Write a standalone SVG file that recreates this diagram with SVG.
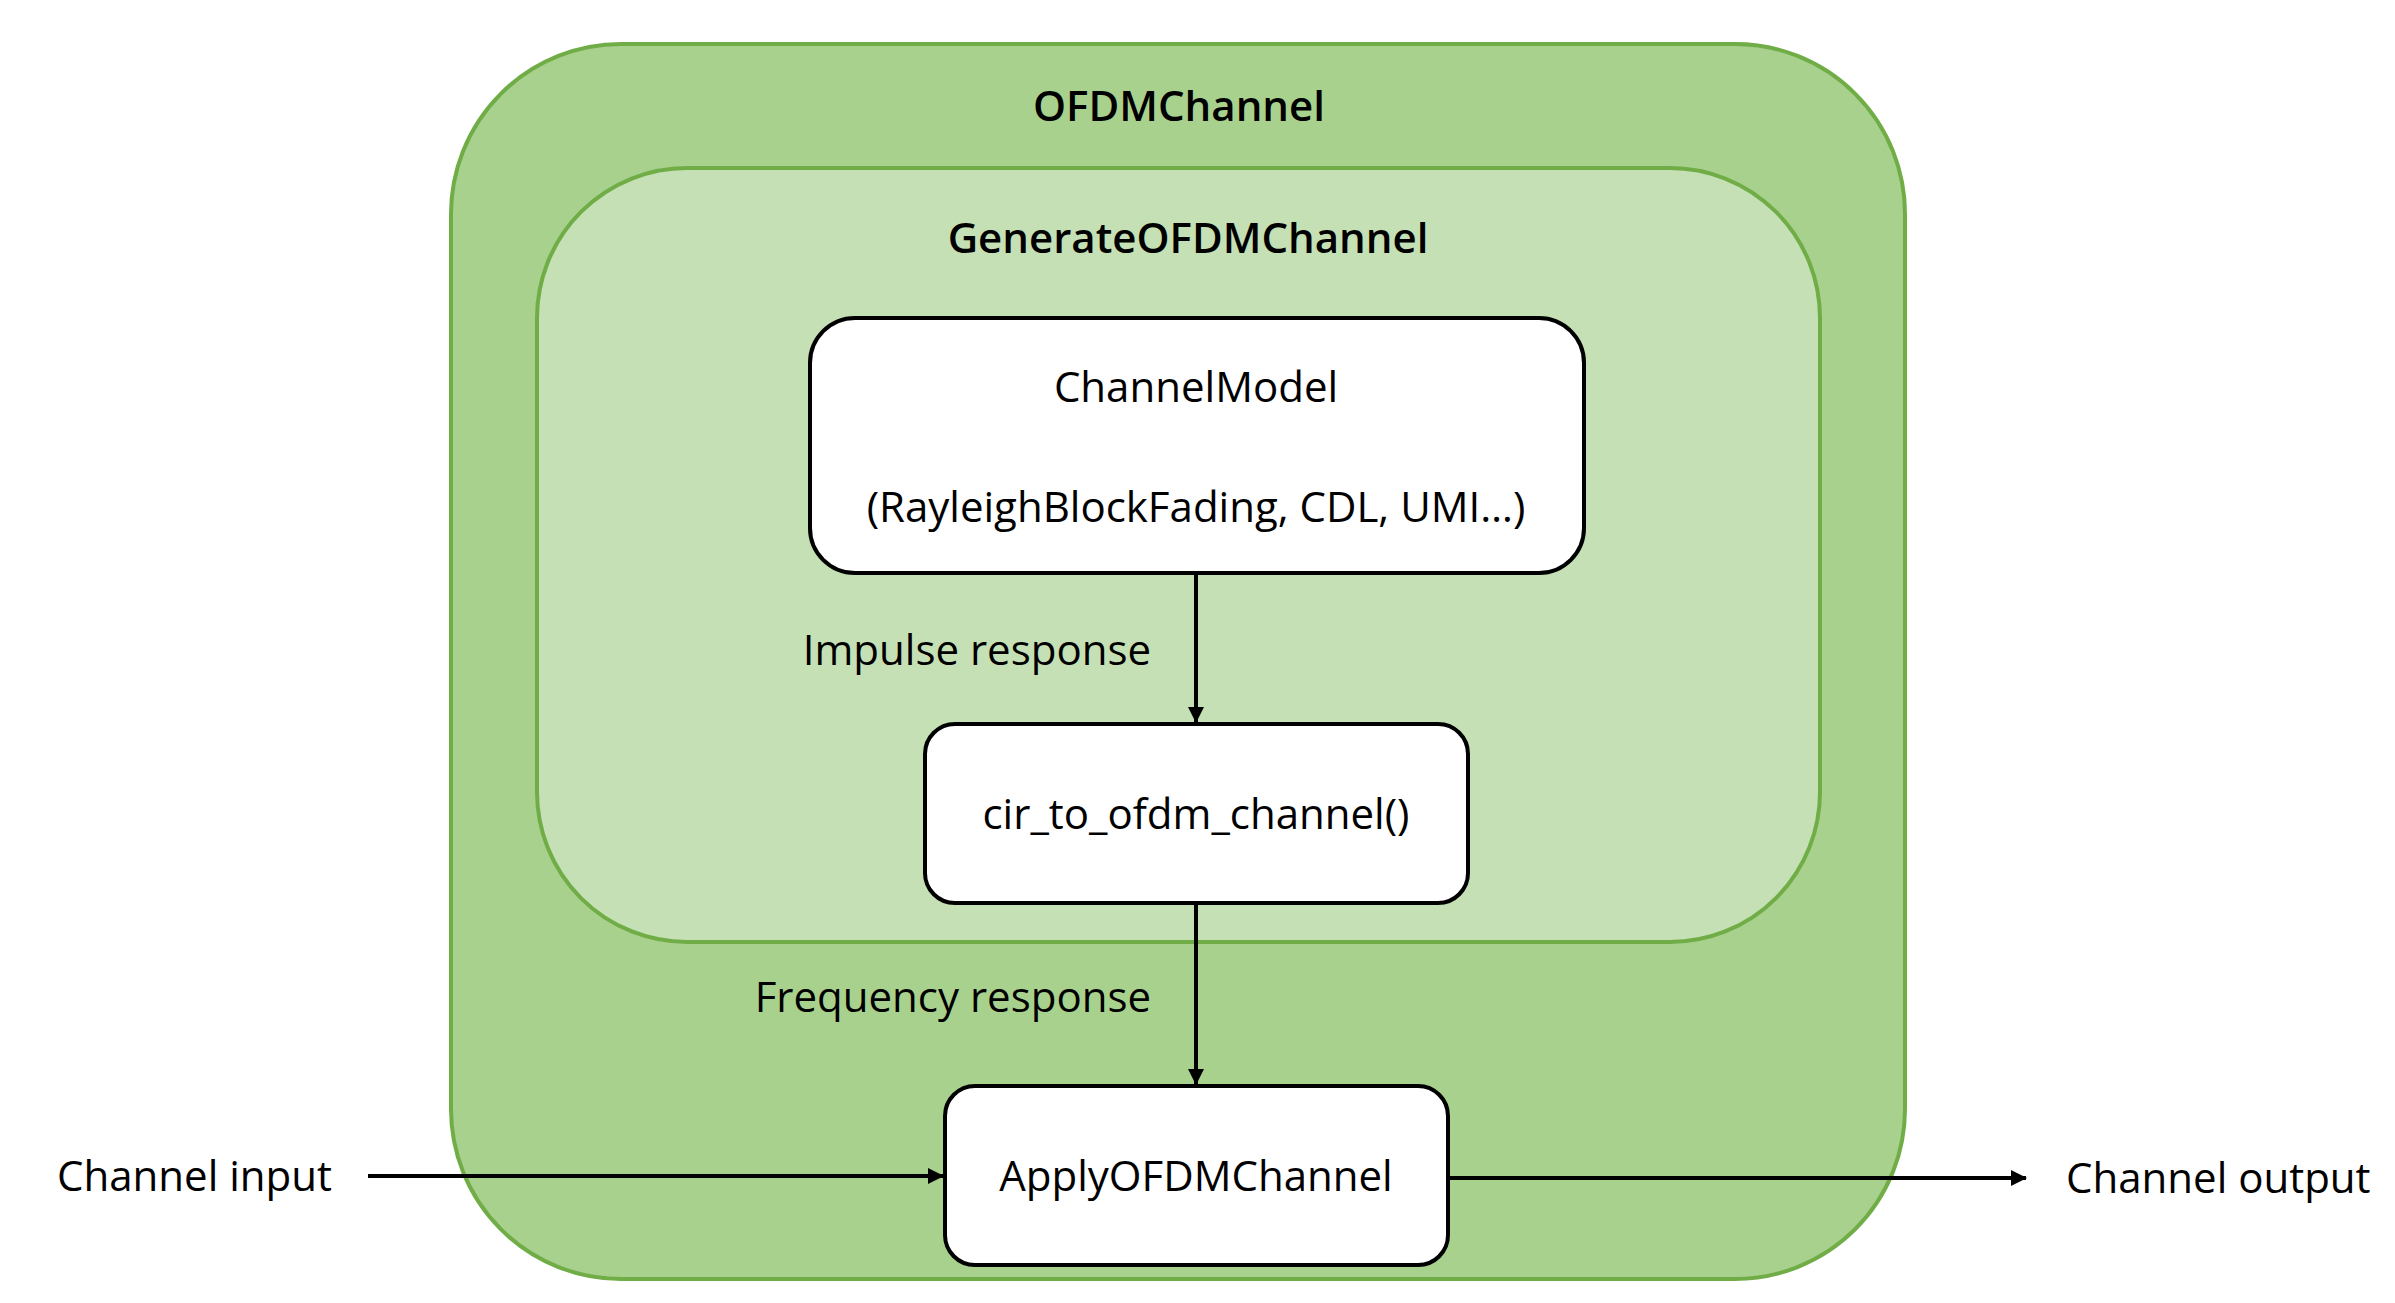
<svg xmlns="http://www.w3.org/2000/svg" width="2395" height="1303" viewBox="0 0 2395 1303">
<defs>
<marker id="ah" markerWidth="16" markerHeight="16" refX="15" refY="8" orient="auto" markerUnits="userSpaceOnUse"><path d="M0,0 L16,8 L0,16 z" fill="#000"/></marker>
<style>
text{font-family:"Open Sans","Liberation Sans",sans-serif;font-size:42px;fill:#000}
.t{font-weight:600}
.box{fill:#fff;stroke:#000;stroke-width:4}
.c{stroke:#000;stroke-width:4;fill:none;marker-end:url(#ah)}
</style>
</defs>
<rect width="2395" height="1303" fill="#fff"/>
<g id="OFDMChannel"><rect x="451" y="44" width="1454" height="1235" rx="170" fill="#a9d18e" stroke="#70ad47" stroke-width="4"/>
<text class="t" x="1179" y="121" text-anchor="middle">OFDMChannel</text></g>
<g id="GenerateOFDMChannel"><rect x="537" y="168" width="1283" height="774" rx="150" fill="#c5e0b4" stroke="#70ad47" stroke-width="4"/>
<text class="t" x="1188" y="253" text-anchor="middle">GenerateOFDMChannel</text></g>
<g id="ChannelModel"><rect class="box" x="810" y="318" width="774" height="255" rx="45"/>
<text x="1196" y="402" text-anchor="middle">ChannelModel</text>
<text x="1196" y="522" text-anchor="middle">(RayleighBlockFading, CDL, UMI…)</text></g>
<g id="cir"><rect class="box" x="925" y="724" width="543" height="179" rx="30"/>
<text x="1196" y="829" text-anchor="middle">cir_to_ofdm_channel()</text></g>
<g id="Apply"><rect class="box" x="945" y="1086" width="503" height="179" rx="30"/>
<text x="1196" y="1191" text-anchor="middle">ApplyOFDMChannel</text></g>
<g id="connectors">
<line class="c" x1="1196" y1="573" x2="1196" y2="722"/>
<line class="c" x1="1196" y1="903" x2="1196" y2="1084"/>
<line class="c" x1="368" y1="1176" x2="943" y2="1176"/>
<line class="c" x1="1448" y1="1178" x2="2026" y2="1178"/>
<text x="1151" y="665" text-anchor="end">Impulse response</text>
<text x="1151" y="1012" text-anchor="end">Frequency response</text>
<text x="57" y="1191">Channel input</text>
<text x="2066" y="1193">Channel output</text>
</g>
</svg>
